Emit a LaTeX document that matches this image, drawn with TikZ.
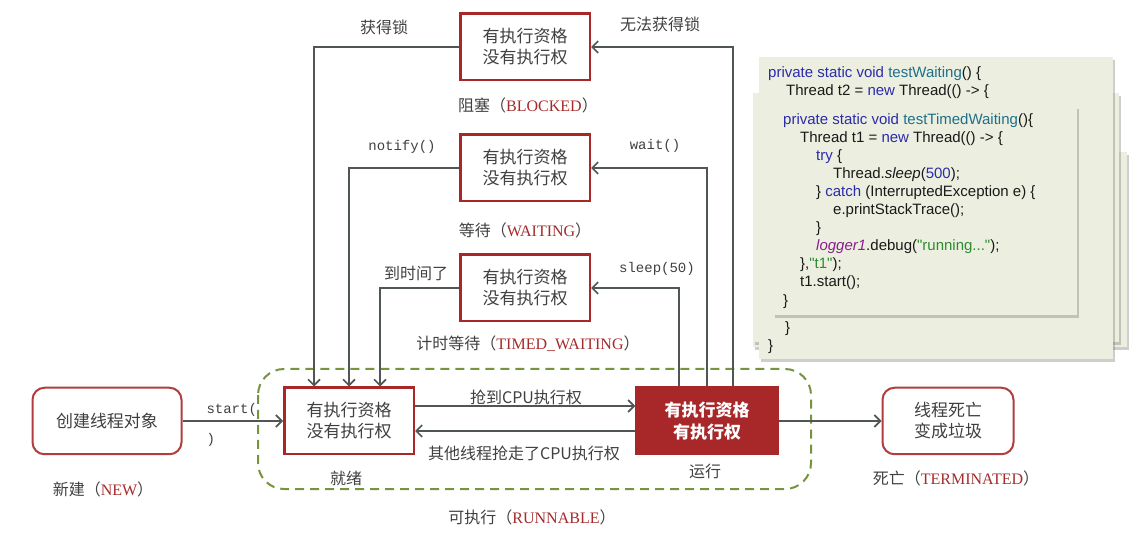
\documentclass[tikz,border=0pt]{standalone}
\usepackage{fontspec}
\setmainfont{Liberation Sans}
\newfontfamily\cjk{Noto Sans CJK SC}
\newfontfamily\monolbl{Liberation Mono}
\newfontfamily\engtag{Liberation Serif}
\newfontfamily\codefont{Liberation Sans}[Ligatures=TeXOff]
\usetikzlibrary{arrows.meta,shadows}

\definecolor{boxred}{HTML}{A8282A}
\definecolor{linegray}{HTML}{505555}
\definecolor{txtgray}{HTML}{404040}
\definecolor{tagred}{HTML}{A52A2A}
\definecolor{runnable}{HTML}{77933C}
\definecolor{codebg}{HTML}{ECEFDF}
\definecolor{kwblue}{HTML}{2B2BAA}
\definecolor{fnteal}{HTML}{1F6F8B}
\definecolor{fldpurple}{HTML}{8B1E8B}
\definecolor{strgreen}{HTML}{2E8B2E}

\newcommand{\statetag}[2]{{\cjk #1（}{\engtag\fontsize{16}{18}\selectfont\color{tagred}#2}{\cjk ）}}
\newcommand{\kw}[1]{{\color{kwblue}#1}}
\newcommand{\fn}[1]{{\color{fnteal}#1}}
\newcommand{\fld}[1]{{\color{fldpurple}\itshape #1}}
\newcommand{\str}[1]{{\color{strgreen}#1}}

\tikzset{
  cell/.style={draw=boxred, line width=2.5pt, fill=white, minimum width=129.5pt, minimum height=66.5pt,
    align=center, text=txtgray, font=\cjk\fontsize{17}{21}\selectfont},
  endcell/.style={cell, draw=boxred!90, line width=2pt, rounded corners=12pt},
  runcell/.style={cell, fill=boxred, text=white, font=\cjk\bfseries\fontsize{17}{22}\selectfont},
  flow/.style={draw=linegray, line width=1.6pt, -{Straight Barb[length=6pt,width=12pt,line width=1.6pt]}},
  tag/.style={text=txtgray, font=\cjk\fontsize{16}{20}\selectfont},
  calltag/.style={text=txtgray, font=\monolbl\fontsize{14}{30}\selectfont},
  codepanel/.style={fill=codebg, drop shadow={shadow xshift=2pt, shadow yshift=-3pt, fill=black!55, opacity=0.35}},
  codetext/.style={anchor=north west, inner sep=0pt, align=left, text=black!90, font=\codefont\fontsize{15}{18.1}\selectfont}
}

\begin{document}
\begin{tikzpicture}[x=1pt,y=-1pt]
\useasboundingbox (0,0) rectangle (1133,534);

% code panels
\path[codepanel] (753,152) rectangle (1127,347);
\path[codepanel] (753,93) rectangle (1119,342);
\path[codepanel] (759,57) rectangle (1113,359);
\node[codetext] (waitcode) at (768,66.5) {\kw{private static void} \fn{testWaiting}() \{\\
\hspace*{18pt}Thread t2 = \kw{new} Thread(() -> \{};
\node[codetext] (waitend) at (768,321) {\hspace*{17pt}\}\\
\}};
\path[codepanel] (773,106) rectangle (1077,315);
\node[codetext] (timedcode) at (783,113) {\kw{private static void} \fn{testTimedWaiting}()\{\\
\hspace*{17pt}Thread t1 = \kw{new} Thread(() -> \{\\
\hspace*{33pt}\kw{try} \{\\
\hspace*{50pt}Thread.\textit{sleep}(\kw{500});\\
\hspace*{33pt}\} \kw{catch} (InterruptedException e) \{\\
\hspace*{50pt}e.printStackTrace();\\
\hspace*{33pt}\}\\
\hspace*{33pt}\fld{logger1}.debug(\str{"running..."});\\
\hspace*{17pt}\},\str{"t1"});\\
\hspace*{17pt}t1.start();\\
\}};

% runnable area
\draw[runnable, line width=2pt, dash pattern=on 9pt off 6pt, rounded corners=26pt] (258,369) rectangle (811,489);

% states
\node[endcell, minimum width=149pt] (new) at (107,421) {创建线程对象};
\node[cell] (ready) at (349,421) {有执行资格\\没有执行权};
\node[runcell, draw=boxred, minimum width=141pt] (run) at (707,421) {有执行资格\\有执行权};
\node[endcell, minimum width=131pt] (dead) at (948,421) {线程死亡\\变成垃圾};
\node[cell] (blocked) at (525,47) {有执行资格\\没有执行权};
\node[cell] (waiting) at (525,168) {有执行资格\\没有执行权};
\node[cell] (timed) at (525,288) {有执行资格\\没有执行权};

% connectors
\draw[flow] (new.east) -- (ready.west);
\draw[flow] ([yshift=15pt]ready.east) -- ([yshift=15pt]run.west);
\draw[flow] ([yshift=-10pt]run.west) -- ([yshift=-10pt]ready.east);
\draw[flow] (run.east) -- (dead.west);
\draw[flow] (blocked.west) -| ([xshift=-35pt]ready.north);
\draw[flow] (waiting.west) -| (ready.north);
\draw[flow] (timed.west) -| ([xshift=31pt]ready.north);
\draw[flow] ([xshift=26pt]run.north) |- (blocked.east);
\draw[flow] (run.north) |- (waiting.east);
\draw[flow] ([xshift=-28pt]run.north) |- (timed.east);

% labels
\node[tag] (lock) at (384,27) {获得锁};
\node[tag] (nolock) at (660,24) {无法获得锁};
\node[calltag] (notify) at (402,147) {notify()};
\node[calltag] (wait) at (655,146) {wait()};
\node[tag] (timeup) at (416,273) {到时间了};
\node[calltag] (sleep) at (657,269) {sleep(50)};
\node[calltag, anchor=west, align=left] (start) at (203,425) {start(\\)};
\node[tag] (getcpu) at (526,397) {抢到CPU执行权};
\node[tag] (losecpu) at (524,453) {其他线程抢走了CPU执行权};

% state names
\node[tag] (newname) at (103,489) {\statetag{新建}{NEW}};
\node[tag] (readyname) at (346,478) {就绪};
\node[tag] (runname) at (705,471) {运行};
\node[tag] (deadname) at (956,478) {\statetag{死亡}{TERMINATED}};
\node[tag] (runnablename) at (532,517) {\statetag{可执行}{RUNNABLE}};
\node[tag] (blockedname) at (528,105) {\statetag{阻塞}{BLOCKED}};
\node[tag] (waitingname) at (525,230) {\statetag{等待}{WAITING}};
\node[tag] (timedname) at (528,344) {\statetag{计时等待}{TIMED\_WAITING}};
\end{tikzpicture}
\end{document}
